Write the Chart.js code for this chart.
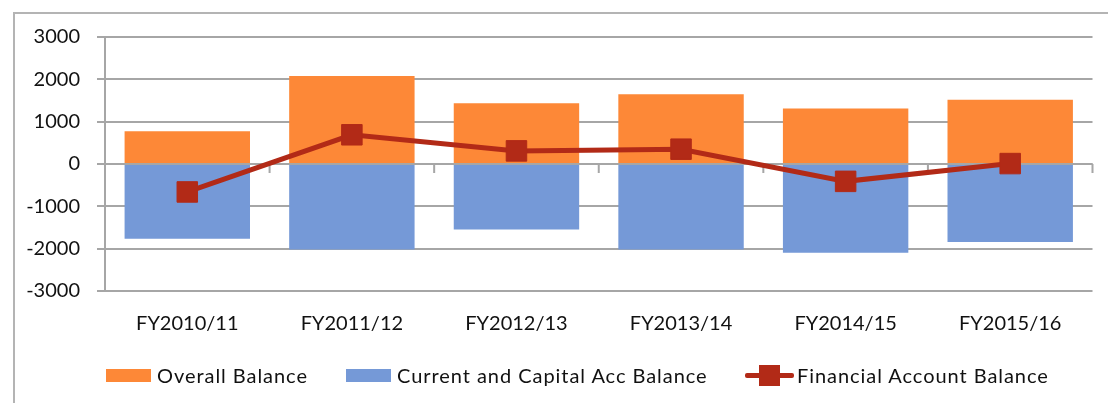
<!DOCTYPE html>
<html>
<head>
<meta charset="utf-8">
<script src="https://cdn.jsdelivr.net/npm/chart.js@4.4.1/dist/chart.umd.min.js"></script>
<style>
  html, body { margin: 0; padding: 0; background: #fff; }
  #wrap { position: relative; width: 1108px; height: 403px; overflow: hidden; font-family: Lato, "Open Sans", sans-serif; }
  #frame { position: absolute; left: 13px; top: 12px; width: 1200px; height: 500px; border-left: 2px solid #b4b4b4; border-top: 2px solid #b4b4b4; box-sizing: border-box; }
  #c { position: absolute; left: 0; top: 0; }
  .lg { position: absolute; top: 363px; height: 24px; display: flex; align-items: center; font-size: 20px; letter-spacing: 0.95px; color: #111; white-space: nowrap; }
  .sw { width: 45px; height: 13px; margin-right: 6px; }
  .ln { position: relative; width: 49px; height: 22px; margin-right: 3px; }
  .ln .bar { position: absolute; left: 0; right: 0; top: 8.5px; height: 5px; background: #B22A17; border-radius: 2px; }
  .ln .pt { position: absolute; left: 14px; top: 1px; width: 21px; height: 21px; background: #B22A17; }
</style>
</head>
<body>
<div id="wrap">
  <div id="frame"></div>
  <canvas id="c" width="1108" height="403"></canvas>
  <div class="lg" style="left:106px"><div class="sw" style="background:#FD8837"></div><span id="l0"></span></div>
  <div class="lg" style="left:346px"><div class="sw" style="background:#7599D7"></div><span id="l1"></span></div>
  <div class="lg" style="left:745px"><div class="ln"><div class="bar"></div><div class="pt"></div></div><span id="l2"></span></div>
</div>
<script>
const categories = ["FY2010/11", "FY2011/12", "FY2012/13", "FY2013/14", "FY2014/15", "FY2015/16"];
const seriesNames = ["Overall Balance", "Current and Capital Acc Balance", "Financial Account Balance"];
const overallBalance = [775, 2080, 1435, 1650, 1310, 1520];
const currentCapitalBalance = [-1765, -2020, -1545, -2020, -2095, -1845];
const financialAccountBalance = [-660, 690, 310, 350, -410, 10];
const yTicks = [-3000, -2000, -1000, 0, 1000, 2000, 3000];

document.getElementById('l0').textContent = seriesNames[0];
document.getElementById('l1').textContent = seriesNames[1];
document.getElementById('l2').textContent = seriesNames[2];

const GRID = '#a6a6a6';
const FONT = 'Lato, "Open Sans", sans-serif';

const zeroAxis = {
  id: 'zeroAxis',
  beforeDatasetDraw(chart, args) {
    if (args.index !== 0) return;
    const { ctx, chartArea } = chart;
    const x = chart.scales.x, y = chart.scales.y;
    const y0 = y.getPixelForValue(0);
    const step = x.getPixelForValue(1) - x.getPixelForValue(0);
    ctx.save();
    ctx.strokeStyle = GRID;
    ctx.lineWidth = 2;
    ctx.beginPath();
    ctx.moveTo(chartArea.left, y0);
    ctx.lineTo(chartArea.right, y0);
    for (let i = 0; i < categories.length; i++) {
      const px = x.getPixelForValue(i) + step / 2;
      ctx.moveTo(px, y0);
      ctx.lineTo(px, y0 + 9);
    }
    ctx.stroke();
    ctx.restore();
  }
};

new Chart(document.getElementById('c'), {
  data: {
    labels: categories,
    datasets: [
      {
        type: 'line', label: seriesNames[2], data: financialAccountBalance, order: 0,
        borderColor: '#B22A17', backgroundColor: '#B22A17', borderWidth: 5,
        pointStyle: 'rect', pointRadius: 14.5, pointBorderWidth: 1,
        pointBackgroundColor: '#B22A17', pointBorderColor: '#B22A17', tension: 0
      },
      {
        type: 'bar', label: seriesNames[0], data: overallBalance, order: 1,
        backgroundColor: '#FD8837', borderWidth: 0,
        categoryPercentage: 1, barPercentage: 0.762
      },
      {
        type: 'bar', label: seriesNames[1], data: currentCapitalBalance, order: 2,
        backgroundColor: '#7599D7', borderWidth: 0,
        categoryPercentage: 1, barPercentage: 0.762
      }
    ]
  },
  options: {
    responsive: false,
    animation: false,
    devicePixelRatio: 1,
    layout: { padding: { top: 37, right: 11, bottom: 0, left: 0 } },
    plugins: { legend: { display: false }, tooltip: { enabled: false } },
    scales: {
      x: {
        stacked: true,
        grid: { display: false, drawTicks: false },
        border: { display: false },
        ticks: { font: { family: FONT, size: 20 }, color: '#111', padding: 21, maxRotation: 0 },
        afterFit(s) { s.height = 112; }
      },
      y: {
        stacked: false,
        min: yTicks[0], max: yTicks[yTicks.length - 1],
        afterBuildTicks(s) { s.ticks = yTicks.map(v => ({ value: v })); },
        grid: { color: GRID, lineWidth: 2, tickLength: 8, drawTicks: true },
        border: { display: true, color: GRID, width: 2 },
        ticks: { font: { family: FONT, size: 20 }, color: '#111', padding: 17, callback: v => String(v) },
        afterFit(s) { s.width = 105; }
      }
    }
  },
  plugins: [zeroAxis]
});
</script>
</body>
</html>
